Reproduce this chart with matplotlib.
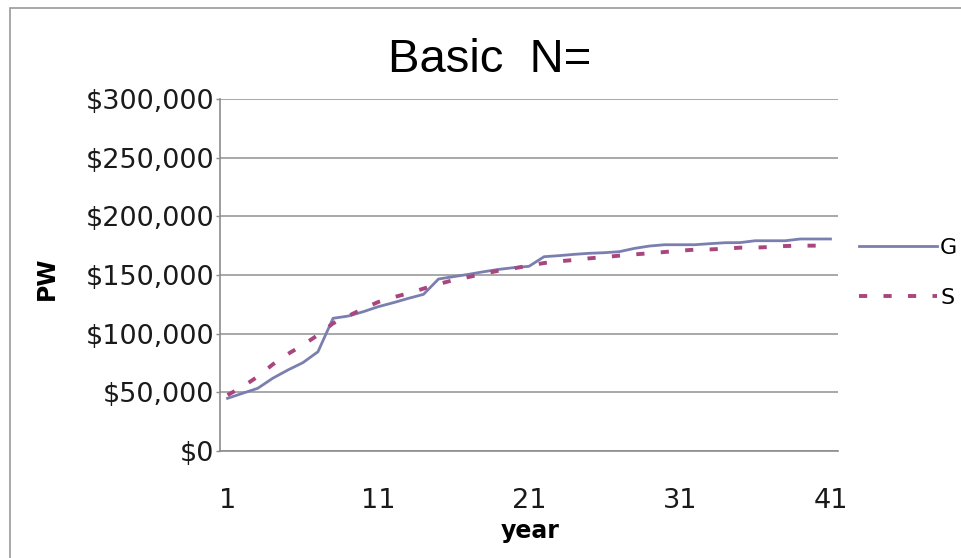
import matplotlib
matplotlib.use("Agg")
import matplotlib.pyplot as plt
from matplotlib.ticker import FuncFormatter
from matplotlib.patches import Rectangle

years = list(range(1, 42))

g_values = [
    44900, 49200, 53400, 62000, 69000, 75300, 84600, 113100, 115000, 118700,
    123000, 126400, 130100, 133500, 146600, 148600, 150600, 152800, 154800, 156300,
    157400, 165600, 166500, 167600, 168500, 169000, 169900, 172700, 174700, 175800,
    175800, 175800, 176700, 177500, 177600, 179200, 179200, 179200, 180700, 180700,
    180700,
]

s_values = [
    47700, 54800, 63400, 73800, 82700, 90300, 98900, 108800, 115000, 121300,
    127000, 131000, 134400, 138400, 142300, 145700, 148300, 151100, 153700, 155700,
    158000, 160200, 161700, 162800, 164200, 165300, 166500, 167600, 168500, 169600,
    170700, 171600, 171800, 172400, 173300, 173300, 173900, 174700, 175000, 175000,
    175000,
]

x_ticks = [1, 11, 21, 31, 41]
y_ticks = [0, 50000, 100000, 150000, 200000, 250000, 300000]

series_names = ["G", "S"]
title_text = "Basic  N="
x_label = "year"
y_label = "PW"

W, H = 961, 558
fig = plt.figure(figsize=(W / 100, H / 100), dpi=100)

# outer chart border
fig.patches.append(Rectangle((9.5 / W, -0.05), 1.2, 1 - 7.5 / H + 0.05,
                             transform=fig.transFigure, fill=False,
                             edgecolor="#9a9a9a", linewidth=1.2))

left, right, top, bottom = 220 / W, 838 / W, 1 - 99 / H, 1 - 451 / H
ax = fig.add_axes([left, bottom, right - left, top - bottom])

grid_color = "#999999"
ax.set_ylim(0, 300000)
ax.set_xlim(0.5, 41.5)
ax.set_yticks(y_ticks)
ax.set_xticks(x_ticks)
ax.yaxis.grid(True, color=grid_color, linewidth=1.2)
ax.set_axisbelow(True)
for side in ("top", "right"):
    ax.spines[side].set_visible(False)
for side in ("left", "bottom"):
    ax.spines[side].set_color("#8c8c8c")
    ax.spines[side].set_linewidth(1.2)

ax.plot(years, g_values, color="#7a7fb0", linewidth=2.0,
        solid_joinstyle="round", label=series_names[0])
ax.plot(years, s_values, color="#a8467d", linewidth=2.8,
        dashes=(2.1, 4.2), label=series_names[1])

tick_font = dict(family="DejaVu Sans", size=19.5)
ax.yaxis.set_major_formatter(FuncFormatter(lambda v, p: "${:,.0f}".format(v)))
ax.tick_params(axis="y", length=3, width=1.0, color="#8c8c8c", pad=1)
ax.tick_params(axis="x", length=0, pad=27)
for lbl in ax.get_yticklabels() + ax.get_xticklabels():
    lbl.set_fontfamily(tick_font["family"])
    lbl.set_fontsize(tick_font["size"])
    lbl.set_color("#1a1a1a")

fig.text(490 / W, 1 - 60 / H, title_text, ha="center", va="center",
         fontsize=34, family=["Liberation Sans Narrow", "Liberation Sans"],
         color="black")
fig.text(47 / W, 1 - 278 / H, y_label, ha="center", va="center",
         rotation=90, fontsize=17, fontweight="bold", family="DejaVu Sans")
fig.text(530 / W, 1 - 531 / H, x_label, ha="center", va="center",
         fontsize=17, fontweight="bold", family="DejaVu Sans")

leg = fig.legend(loc="upper left", bbox_to_anchor=(859 / W, 1 - 238 / H),
                 frameon=False, handlelength=3.5, handletextpad=0.15,
                 labelspacing=1.35, prop=dict(family="DejaVu Sans", size=16),
                 borderaxespad=0, borderpad=0)

fig.savefig("out.png", dpi=100)
